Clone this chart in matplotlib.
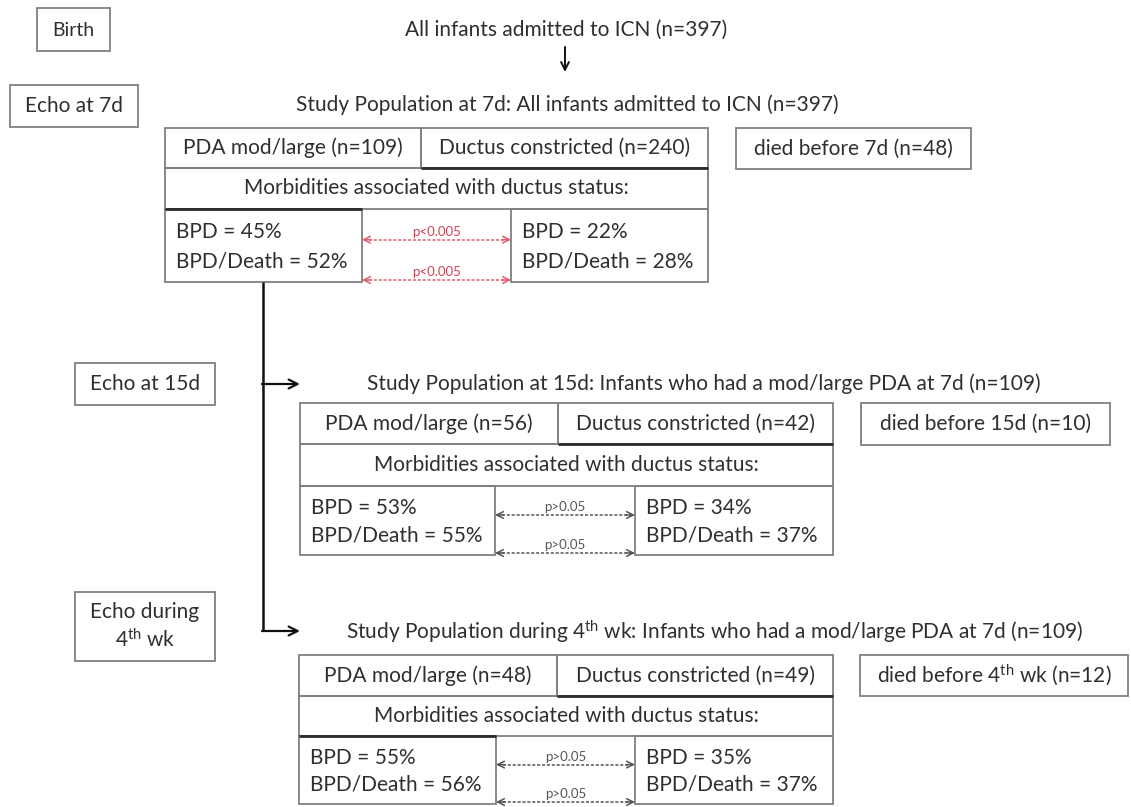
import matplotlib.pyplot as plt
from matplotlib.patches import Rectangle

plt.rcParams['font.family'] = ['Lato', 'DejaVu Sans']
plt.rcParams['mathtext.fontset'] = 'custom'
plt.rcParams['mathtext.rm'] = 'Lato'
plt.rcParams['mathtext.it'] = 'Lato:italic'

# data
top_label = 'Birth'
top_title = 'All infants admitted to ICN (n=397)'
stage_labels = ['Echo at 7d', 'Echo at 15d', 'Echo during\n4$^{\\mathrm{th}}$ wk']
pop_titles = ['Study Population at 7d: All infants admitted to ICN (n=397)',
              'Study Population at 15d: Infants who had a mod/large PDA at 7d (n=109)',
              'Study Population during 4$^{\\mathrm{th}}$ wk: Infants who had a mod/large PDA at 7d (n=109)']
pda_n = [109, 56, 48]
constricted_n = [240, 42, 49]
died_when = ['7d', '15d', '4$^{\\mathrm{th}}$ wk']
died_n = [48, 10, 12]
bpd_pda = [45, 53, 55]
bpd_death_pda = [52, 55, 56]
bpd_con = [22, 34, 35]
bpd_death_con = [28, 37, 37]
p_labels = ['p<0.005', 'p>0.05', 'p>0.05']

# layout (pixel coordinates)
stage_boxes = [(10, 85, 138, 127), (75, 363, 215, 405), (75, 592, 215, 661)]
# left, split, right, rows(y0,y1,y2,y3), bpd-left right edge, bpd-right left edge
tables = [
    (165, 421, 708, (128, 168, 209, 282), 362, 511),
    (300, 558, 833, (403, 444, 486, 555), 495, 635),
    (299, 557, 833, (655, 696, 736, 804), 496, 635),
]
died_boxes = [(736, 128, 971, 169), (861, 403, 1110, 445), (860, 655, 1128, 696)]
title_pos = [(567, 105), (704, 384), (714, 632)]
thick_top = [True, False, True]

TXT = '#2f2f2f'
EDGE = '#808080'
DARK = '#2a2a2a'
FS = 15

fig = plt.figure(figsize=(11.31, 8.07), dpi=100)
ax = fig.add_axes([0, 0, 1, 1])
ax.set_xlim(0, 1131)
ax.set_ylim(807, 0)
ax.axis('off')


def box(x0, y0, x1, y1, ec=EDGE, lw=1.3):
    ax.add_patch(Rectangle((x0, y0), x1 - x0, y1 - y0, fill=False, ec=ec, lw=lw))


def hline(x0, x1, y, color=DARK, lw=2):
    ax.plot([x0, x1], [y, y], color=color, lw=lw, solid_capstyle='butt')


def dotted_arrow(x0, x1, y, color):
    ax.plot([x0 + 2, x1 - 2], [y, y], color=color, lw=1.1, ls=(0, (2, 1.2)))
    for xs, xe in [(x0 + 9, x0), (x1 - 9, x1)]:
        ax.annotate('', xy=(xe, y), xytext=(xs, y),
                    arrowprops=dict(arrowstyle='->', color=color, lw=1.1,
                                    shrinkA=0, shrinkB=0, mutation_scale=12))


# birth row
box(37, 8, 110, 51)
ax.text(73.5, 30, top_label, ha='center', va='center', fontsize=FS - 1, color=TXT)
ax.text(566, 30, top_title, ha='center', va='center', fontsize=FS, color=TXT)
ax.annotate('', xy=(565, 72), xytext=(565, 47),
            arrowprops=dict(arrowstyle='->', color='#111111', lw=1.4,
                            shrinkA=0, shrinkB=0, mutation_scale=14))

for i in range(3):
    sx0, sy0, sx1, sy1 = stage_boxes[i]
    box(sx0, sy0, sx1, sy1)
    ax.text((sx0 + sx1) / 2, (sy0 + sy1) / 2, stage_labels[i], ha='center',
            va='center', fontsize=FS, color=TXT, linespacing=1.3)

    L, S, R, (y0, y1, y2, y3), bl, br = tables[i]
    tx, ty = title_pos[i]
    ax.text(tx, ty, pop_titles[i], ha='center', va='center', fontsize=FS, color=TXT)

    # header row
    box(L, y0, S, y1)
    box(S, y0, R, y1)
    hline(S, R, y1)
    ax.text((L + S) / 2, (y0 + y1) / 2, f'PDA mod/large (n={pda_n[i]})',
            ha='center', va='center', fontsize=FS, color=TXT)
    ax.text((S + R) / 2, (y0 + y1) / 2, f'Ductus constricted (n={constricted_n[i]})',
            ha='center', va='center', fontsize=FS, color=TXT)

    # morbidities row
    box(L, y1, R, y2)
    ax.text((L + R) / 2, (y1 + y2) / 2, 'Morbidities associated with ductus status:',
            ha='center', va='center', fontsize=FS, color=TXT)

    # bpd boxes
    box(L, y2, bl, y3)
    box(br, y2, R, y3)
    if thick_top[i]:
        hline(L, bl, y2)
    h = y3 - y2
    for x, a, b in [(L, bpd_pda[i], bpd_death_pda[i]), (br, bpd_con[i], bpd_death_con[i])]:
        ax.text(x + 11, y2 + h * 0.32, f'BPD = {a}%', ha='left', va='center',
                fontsize=FS, color=TXT)
        ax.text(x + 11, y2 + h * 0.72, f'BPD/Death = {b}%', ha='left', va='center',
                fontsize=FS, color=TXT)

    # p-value arrows
    red = i == 0
    acol = '#e0606c' if red else '#555555'
    lcol = '#d9404f' if red else '#555555'
    ya = [y2 + h * 0.42, y3 - 2]
    for yy in ya:
        dotted_arrow(bl, br, yy, acol)
        ax.text((bl + br) / 2, yy - 8, p_labels[i], ha='center', va='center',
                fontsize=9.5, color=lcol)

    # died box
    dx0, dy0, dx1, dy1 = died_boxes[i]
    box(dx0, dy0, dx1, dy1)
    ax.text((dx0 + dx1) / 2, (dy0 + dy1) / 2, f'died before {died_when[i]} (n={died_n[i]})',
            ha='center', va='center', fontsize=FS, color=TXT)

# connector from 7d PDA group to later echoes
ax.plot([263, 263], [282, 631], color='#111111', lw=1.8, solid_capstyle='butt')
for yy in [384, 631]:
    ax.annotate('', xy=(300, yy), xytext=(262, yy),
                arrowprops=dict(arrowstyle='->', color='#111111', lw=1.6,
                                shrinkA=0, shrinkB=0, mutation_scale=16))

fig.savefig('out.png', dpi=100)
